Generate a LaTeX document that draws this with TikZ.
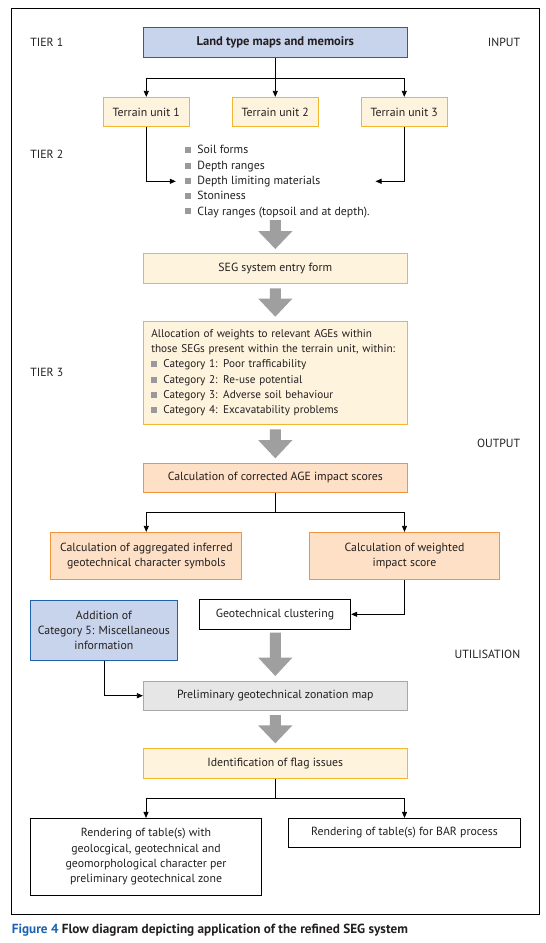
\documentclass[tikz,border=0pt]{standalone}
\usepackage{fontspec}
\setmainfont{PT Sans}
\usetikzlibrary{arrows.meta}
\definecolor{txt}{HTML}{231F20}
\definecolor{bluef}{HTML}{C8D3EC}
\definecolor{blued}{HTML}{1F62AC}
\definecolor{creamf}{HTML}{FEF3DD}
\definecolor{creamd}{HTML}{F6B52E}
\definecolor{peachf}{HTML}{FDE0C5}
\definecolor{peachd}{HTML}{F19441}
\definecolor{grayf}{HTML}{E6E6E7}
\definecolor{grayd}{HTML}{A7A8AA}
\definecolor{garrow}{HTML}{9F9F9F}
\definecolor{bulg}{HTML}{9A9A9A}
\definecolor{capblue}{HTML}{1C62B0}
\newcommand\sqb{\textcolor{bulg}{\rule[0.6pt]{6pt}{6pt}}\hspace{6pt}}
\newcommand\blockarr[3]{\fill[garrow] (269.8,#1) -- (280.8,#1) -- (280.8,#2) -- (292.5,#2) -- (275.3,#3) -- (258.1,#2) -- (269.8,#2) -- cycle;}
\begin{document}
\begin{tikzpicture}[x=1pt,y=-1pt,
  every node/.style={text=txt, font=\fontsize{11.8}{15.3}\selectfont},
  box/.style={draw, line width=0.8pt, inner sep=0pt, align=center},
  cream/.style={box, fill=creamf, draw=creamd},
  peach/.style={box, fill=peachf, draw=peachd},
  bluebox/.style={box, fill=bluef, draw=blued},
  graybox/.style={box, fill=grayf, draw=grayd},
  plain/.style={box, fill=white, draw=black},
  arr/.style={line width=0.8pt, -{Triangle[length=6pt,width=5pt]}},
  ln/.style={line width=0.8pt},
  lab/.style={inner sep=0pt}
]
\useasboundingbox (0,0) rectangle (546,943);
\fill[white] (0,0) rectangle (546,943);
\draw[line width=0.9pt] (11,8) rectangle (539,914);

% side labels
\node[lab, anchor=west] (t1) at (30.2,42.7) {TIER 1};
\node[lab, anchor=west] (t2) at (30.2,154) {TIER 2};
\node[lab, anchor=west] (t3) at (30.2,372.7) {TIER 3};
\node[lab, anchor=east] (in) at (520.4,42.7) {INPUT};
\node[lab, anchor=east] (out) at (520.4,443.3) {OUTPUT};
\node[lab, anchor=east] (util) at (520.4,654.3) {UTILISATION};

% boxes
\node[bluebox, minimum width=264pt, minimum height=30pt, font=\fontsize{12.6}{15.3}\selectfont\bfseries] (land) at (275.3,42.3) {Land type maps and memoirs};
\node[cream, minimum width=86.6pt, minimum height=29.4pt] (tu1) at (146.3,112) {Terrain unit 1};
\node[cream, minimum width=86.6pt, minimum height=29.4pt] (tu2) at (275.3,112) {Terrain unit 2};
\node[cream, minimum width=86.6pt, minimum height=29.4pt] (tu3) at (404.3,112) {Terrain unit 3};
\node[lab, anchor=west, align=left] (list) at (185.2,181.5) {\sqb Soil forms\\ \sqb Depth ranges\\ \sqb Depth limiting materials\\ \sqb Stoniness\\ \sqb Clay ranges (topsoil and at depth).};
\coordinate (inL) at (175.8,181.3);
\coordinate (inR) at (375.5,181.3);

\node[cream, minimum width=264pt, minimum height=30pt] (seg) at (275.3,268.3) {SEG system entry form};
\node[cream, minimum width=264pt, minimum height=103pt, inner xsep=8pt, text width=248pt, align=left, font=\fontsize{11.2}{15.3}\selectfont] (alloc) at (275.3,372.8) {Allocation of weights to relevant AGEs within\\ those SEGs present within the terrain unit, within:\\ \sqb Category 1: Poor trafficability\\ \sqb Category 2: Re-use potential\\ \sqb Category 3: Adverse soil behaviour\\ \sqb Category 4: Excavatability problems};
\node[peach, minimum width=264pt, minimum height=29pt] (age) at (275.3,477.8) {Calculation of corrected AGE impact scores};
\node[peach, minimum width=191pt, minimum height=47pt] (agg) at (146.3,555.8) {Calculation of aggregated inferred\\ geotechnical character symbols};
\node[peach, minimum width=190pt, minimum height=47pt] (wgt) at (404.5,555.8) {Calculation of weighted\\ impact score};
\node[plain, minimum width=151.5pt, minimum height=30pt] (clus) at (275,614.3) {Geotechnical clustering};
\node[bluebox, minimum width=147.3pt, minimum height=60pt] (add) at (103.9,630.3) {Addition of\\ Category 5: Miscellaneous\\ information};
\node[graybox, minimum width=264pt, minimum height=28.7pt] (prelim) at (275.3,695.7) {Preliminary geotechnical zonation map};
\node[cream, minimum width=264pt, minimum height=30pt] (flag) at (275.3,763.3) {Identification of flag issues};
\node[plain, minimum width=231.5pt, minimum height=76.7pt] (r1) at (146,856.7) {Rendering of table(s) with\\ geolocgical, geotechnical and\\ geomorphological character per\\ preliminary geotechnical zone};
\node[plain, minimum width=231.8pt, minimum height=28.7pt] (r2) at (404.5,832.7) {Rendering of table(s) for BAR process};

% thin connectors
\draw[ln] (land.south) -- ++(0,20.4) coordinate (j1);
\draw[arr] (j1) -| (tu1.north);
\draw[arr] (j1) -| (tu3.north);
\draw[arr] (land.south) -- (tu2.north);
\draw[arr] (tu1.south) |- (inL);
\draw[arr] (tu3.south) |- (inR);

\draw[ln] (age.south) -- ++(0,19.7) coordinate (j2);
\draw[arr] (j2) -| (agg.north);
\draw[arr] (j2) -| (wgt.north);
\draw[arr] (wgt.south) |- (clus.east);
\draw[arr] (add.south) |- (prelim.west);

\draw[ln] (flag.south) -- ++(0,19.7) coordinate (j3);
\draw[arr] (j3) -| (r1.north);
\draw[arr] (j3) -| (r2.north);

% block arrows
\blockarr{220}{231}{249}
\blockarr{288.3}{298.5}{316.7}
\blockarr{429.3}{440}{458.3}
\blockarr{632.7}{657.5}{676}
\blockarr{715}{725.3}{743.3}

% caption
\node[lab, anchor=west, font=\fontsize{13.2}{14}\selectfont\bfseries] (cap) at (11.7,930) {\textcolor{capblue}{Figure 4} Flow diagram depicting application of the refined SEG system};
\end{tikzpicture}
\end{document}
